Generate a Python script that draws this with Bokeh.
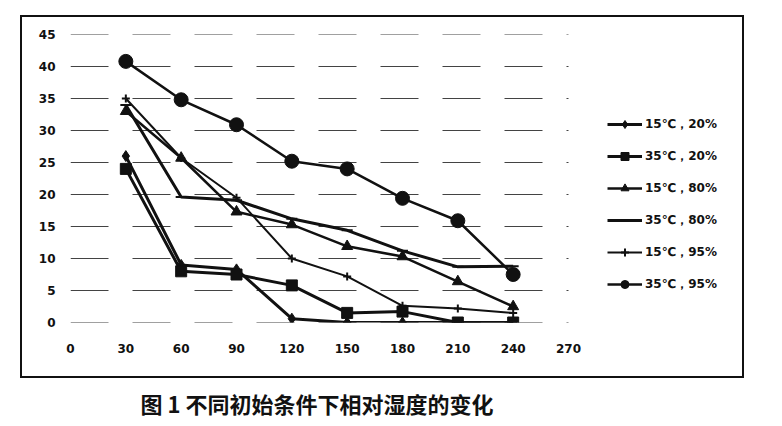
from bokeh.plotting import figure
from bokeh.models import Range1d, FixedTicker, Legend, LegendItem, Title, InlineStyleSheet
from bokeh.embed import file_html
from bokeh.resources import INLINE

# ---- data ----
times = [30, 60, 90, 120, 150, 180, 210, 240]
x_ticks = [0, 30, 60, 90, 120, 150, 180, 210, 240, 270]
y_ticks = [0, 5, 10, 15, 20, 25, 30, 35, 40, 45]

s15_20 = [26, 9, 8.3, 0.6, 0, 0, 0, 0]
s35_20 = [24, 8, 7.5, 5.8, 1.5, 1.7, 0, 0]
s15_80 = [33, 25.7, 17.3, 15.3, 11.9, 10.3, 6.4, 2.5]
s35_80 = [34, 19.6, 19.1, 16.2, 14.4, 11.2, 8.7, 8.8]
s15_95 = [35, 25.7, 19.5, 10, 7.2, 2.6, 2.2, 1.5]
s35_95 = [40.8, 34.8, 30.9, 25.2, 24.0, 19.4, 15.9, 7.5]

labels = ["15℃，20%", "35℃，20%", "15℃，80%", "35℃，80%", "15℃，95%", "35℃，95%"]
series = [s15_20, s35_20, s15_80, s35_80, s15_95, s35_95]
markers = ["diamond", "square", "triangle", "dash", "cross", "circle"]
msizes = [11, 11, 11, 11, 8, 14]
lwidths = [3, 3, 2.5, 3, 2, 2.5]

caption = "图 1  不同初始条件下相对湿度的变化"

INK = "#111111"

# layout numbers (pixels)
FRAME_W, FRAME_H = 670, 288
PLOT_W = 498                      # pixels covered by the 0..270 data span
X_END = x_ticks[-1] * FRAME_W / PLOT_W   # room on the right for the legend

frame_css = InlineStyleSheet(css="""
:host { position: relative; }
:host::after {
  content: "";
  position: absolute;
  left: 20px; top: 15px;
  width: 720px; height: 359px;
  border: 2px solid #111111;
  pointer-events: none;
}
""")

p = figure(frame_width=FRAME_W, frame_height=FRAME_H,
           output_backend="svg", toolbar_location=None,
           x_range=Range1d(0, X_END), y_range=Range1d(0, 45),
           min_border_left=70, min_border_right=26,
           min_border_top=34, min_border_bottom=60)
p.stylesheets = [frame_css]
p.outline_line_color = None
p.background_fill_color = "white"
p.border_fill_color = "white"

p.xgrid.visible = False
p.ygrid.visible = False
# horizontal grid lines limited to the data span (0..270)
p.segment(x0=[x_ticks[0]] * len(y_ticks), x1=[x_ticks[-1]] * len(y_ticks),
          y0=y_ticks, y1=y_ticks, line_color="#222222", line_width=1,
          line_dash="38 24", line_alpha=0.85)

p.xaxis.ticker = FixedTicker(ticks=x_ticks)
p.yaxis.ticker = FixedTicker(ticks=y_ticks)
for ax in (p.xaxis[0], p.yaxis[0]):
    ax.axis_line_color = None
    ax.major_tick_line_color = None
    ax.minor_tick_line_color = None
    ax.major_tick_out = 0
    ax.major_tick_in = 0
    ax.major_label_text_font = "DejaVu Sans"
    ax.major_label_text_font_style = "bold"
    ax.major_label_text_font_size = "12px"
    ax.major_label_text_color = INK
p.xaxis.major_label_standoff = 21
p.yaxis.major_label_standoff = 15
# blank axis label used only as vertical spacing above the caption
p.xaxis.axis_label = " "
p.xaxis.axis_label_standoff = 5
p.xaxis.axis_label_text_font_size = "14px"

items = []
for lab, ys, mk, ms, lw in zip(labels, series, markers, msizes, lwidths):
    rl = p.line(times, ys, line_color=INK, line_width=lw)
    rs = p.scatter(times, ys, marker=mk, size=ms, line_color=INK, fill_color=INK,
                   line_width=2 if mk in ("cross", "dash") else 1)
    items.append(LegendItem(label=lab, renderers=[rl, rs]))

legend = Legend(items=items, location=(537, 28))
legend.border_line_color = None
legend.background_fill_alpha = 0
legend.padding = 0
legend.margin = 0
legend.spacing = 12
legend.glyph_height = 20
legend.glyph_width = 35
legend.label_height = 20
legend.label_standoff = 3
legend.label_text_font = "DejaVu Sans"
legend.label_text_font_size = "12px"
legend.label_text_font_style = "bold"
legend.label_text_color = INK
p.add_layout(legend)

t = Title(text=caption, align="left", offset=70, standoff=10,
          text_font="Noto Sans CJK SC", text_font_size="22px",
          text_font_style="bold", text_color=INK)
p.add_layout(t, "below")

open("out.html", "w").write(file_html(p, INLINE))
